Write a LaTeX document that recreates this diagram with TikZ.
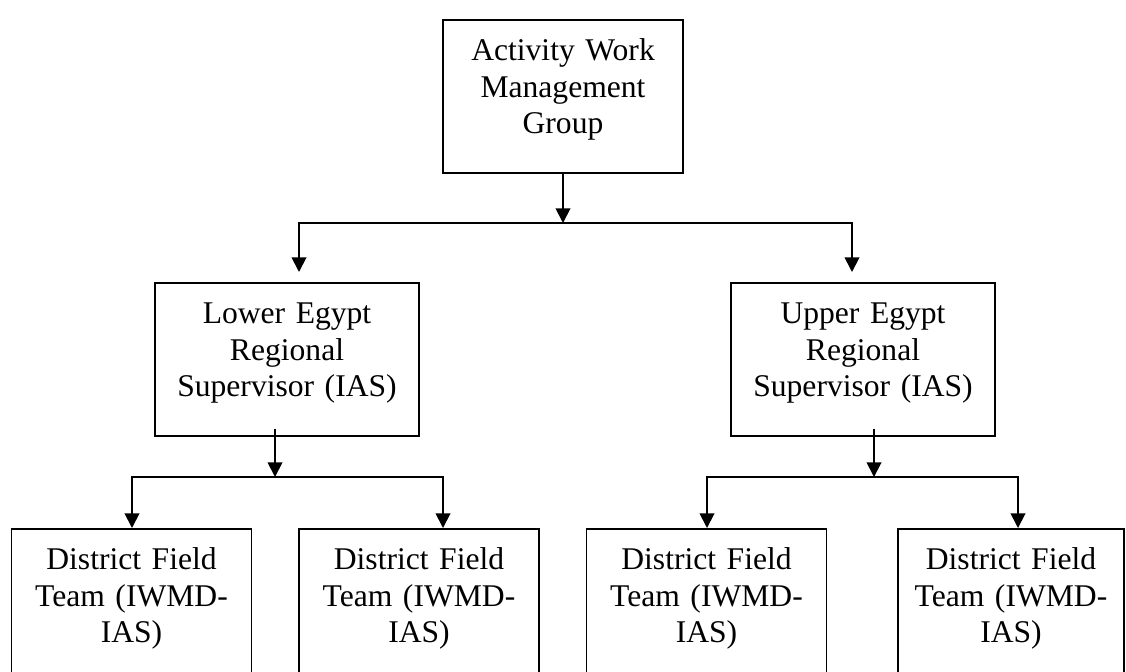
\documentclass[tikz,border=0pt]{standalone}
\usepackage{fontspec}
\setmainfont{Liberation Serif}
\usetikzlibrary{arrows.meta}

\begin{document}
\begin{tikzpicture}[x=0.75pt,y=-0.75pt,
  box/.style={draw,line width=1.4pt,anchor=north,inner sep=0pt,align=center,
    font=\fontsize{23.7}{27.4}\selectfont,text height=30.5pt},
  link/.style={line width=1.4pt},
  arr/.style={link,-{Triangle[width=11pt,length=11pt]}}]
\useasboundingbox (0,0) rectangle (1126,671);
\clip (0,0) rectangle (1126,671);

\node[box,text width=180pt,text depth=84pt] (G) at (563,19) {Activity Work\\Management\\Group};

\node[box,text width=198pt,text depth=84pt] (L) at (287,282) {Lower Egypt\\Regional\\Supervisor (IAS)};
\node[box,text width=198pt,text depth=84pt] (U) at (863,282) {Upper Egypt\\Regional\\Supervisor (IAS)};

\node[box,text width=180pt,text depth=110pt] (D1) at (131.5,528) {District Field\\Team (IWMD-\\IAS)};
\node[box,text width=180pt,text depth=110pt] (D2) at (419,528) {District Field\\Team (IWMD-\\IAS)};
\node[box,text width=180pt,text depth=110pt] (D3) at (706.5,528) {District Field\\Team (IWMD-\\IAS)};
\node[box,text width=169.5pt,text depth=110pt] (D4) at (1011,528) {District Field\\Team (IWMD-\\IAS)};

\coordinate (J0) at (563,223);
\coordinate (J1) at (299,223);
\coordinate (J2) at (852,223);

\coordinate (K0) at (275,477);
\coordinate (K1) at (132,477);
\coordinate (K2) at (443,477);

\coordinate (M0) at (874,477);
\coordinate (M1) at (707,477);
\coordinate (M2) at (1018,477);

% top level
\draw[arr] (G) -- (J0);
\draw[arr,shorten >=7.5pt] (J0) -- (J1) -- (L.north -| J1);
\draw[arr,shorten >=7.5pt] (J0) -- (J2) -- (U.north -| J2);

% lower egypt
\draw[arr,shorten <=-6pt] (L.south -| K0) -- (K0);
\draw[arr] (K0) -- (K1) -- (D1.north -| K1);
\draw[arr] (K0) -- (K2) -- (D2.north -| K2);

% upper egypt
\draw[arr,shorten <=-6pt] (U.south -| M0) -- (M0);
\draw[arr] (M0) -- (M1) -- (D3.north -| M1);
\draw[arr] (M0) -- (M2) -- (D4.north -| M2);

\end{tikzpicture}
\end{document}
